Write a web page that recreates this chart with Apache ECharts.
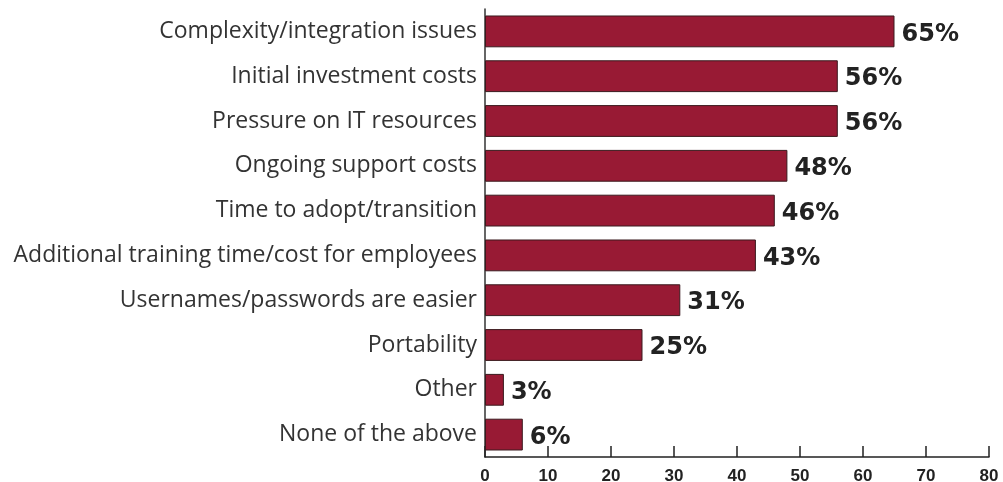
<!DOCTYPE html>
<html>
<head>
<meta charset="utf-8">
<script src="https://cdn.jsdelivr.net/npm/echarts@6/dist/echarts.min.js"></script>
<style>
  html, body { margin: 0; padding: 0; background: #fff; }
  #chart { width: 1003px; height: 482px; }
</style>
</head>
<body>
<div id="chart"></div>
<script>
// Barriers listed top to bottom
const categories = [
  'Complexity/integration issues',
  'Initial investment costs',
  'Pressure on IT resources',
  'Ongoing support costs',
  'Time to adopt/transition',
  'Additional training time/cost for employees',
  'Usernames/passwords are easier',
  'Portability',
  'Other',
  'None of the above'
];
const percentages = [65, 56, 56, 48, 46, 43, 31, 25, 3, 6];
const xTicks = [0, 10, 20, 30, 40, 50, 60, 70, 80];

const chart = echarts.init(document.getElementById('chart'), null, { renderer: 'canvas' });

chart.setOption({
  animation: false,
  grid: {
    left: 485, right: 14, top: 9, bottom: 25,
    containLabel: false, outerBoundsMode: 'none'
  },
  xAxis: {
    type: 'value',
    min: xTicks[0],
    max: xTicks[xTicks.length - 1],
    interval: 10,
    splitLine: { show: false },
    axisLine: { show: true, lineStyle: { color: '#222', width: 1.5 } },
    axisTick: { show: true, inside: true, length: 11, lineStyle: { color: '#222', width: 1.5 } },
    axisLabel: {
      color: '#222', fontSize: 17, fontWeight: 'bold',
      fontFamily: 'Liberation Sans, Arial, sans-serif', margin: 11
    }
  },
  yAxis: {
    type: 'category',
    data: categories,
    inverse: true,
    axisLine: { show: true, lineStyle: { color: '#333', width: 1.5 } },
    axisTick: { show: false },
    axisLabel: {
      color: '#333', fontSize: 23,
      fontFamily: 'Open Sans, Liberation Sans, sans-serif', margin: 8
    }
  },
  series: [{
    type: 'bar',
    data: percentages,
    barCategoryGap: '29%',
    itemStyle: { color: '#981a34', borderColor: '#3a1a1e', borderWidth: 1 },
    label: {
      show: true,
      position: 'right',
      distance: 7,
      offset: [0, 3],
      formatter: '{c}%',
      color: '#222',
      fontSize: 24,
      fontWeight: 'bold',
      fontFamily: 'DejaVu Sans, sans-serif'
    }
  }]
});
</script>
</body>
</html>
